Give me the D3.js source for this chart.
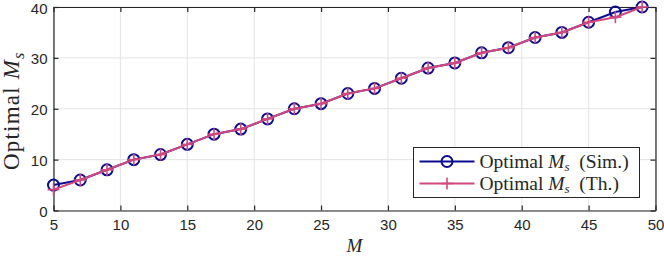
<!DOCTYPE html>
<html>
<head>
<meta charset="utf-8">
<script src="https://cdn.jsdelivr.net/npm/d3@7"></script>
<style>
  body { margin: 0; background: #fff; }
  svg { display: block; }
</style>
</head>
<body>
<div id="chart"></div>
<script>
var mValues = [5, 7, 9, 11, 13, 15, 17, 19, 21, 23, 25, 27, 29, 31, 33, 35, 37, 39, 41, 43, 45, 47, 49];
var simValues = [5, 6, 8, 10, 11, 13, 15, 16, 18, 20, 21, 23, 24, 26, 28, 29, 31, 32, 34, 35, 37, 39, 40];
var thValues = [4.1, 6, 8, 10, 11, 13, 15, 16, 18, 20, 21, 23, 24, 26, 28, 29, 31, 32, 34, 35, 37, 38, 40];
var xTicks = [5, 10, 15, 20, 25, 30, 35, 40, 45, 50];
var yTicks = [0, 10, 20, 30, 40];

var simColor = '#0c0c8f';
var thColor = '#d2497f';

var width = 664, height = 256;
var margin = { top: 7, left: 53.5, bottom: 45.5, right: 8.5 };

var svg = d3.select('#chart').append('svg')
    .attr('width', width)
    .attr('height', height);

var x = d3.scaleLinear().domain([5, 50]).range([margin.left, width - margin.right]);
var y = d3.scaleLinear().domain([0, 40]).range([height - margin.bottom, margin.top]);

// grid
svg.append('g').selectAll('line')
    .data(xTicks)
    .enter().append('line')
    .attr('x1', function (d) { return x(d); })
    .attr('x2', function (d) { return x(d); })
    .attr('y1', y(0))
    .attr('y2', y(40))
    .style('stroke', '#e3e3e3')
    .style('stroke-width', 1);
svg.append('g').selectAll('line')
    .data(yTicks)
    .enter().append('line')
    .attr('x1', x(5))
    .attr('x2', x(50))
    .attr('y1', function (d) { return y(d); })
    .attr('y2', function (d) { return y(d); })
    .style('stroke', '#e3e3e3')
    .style('stroke-width', 1);

// axes (box with inward ticks)
var tickFont = '"Liberation Sans", Arial, sans-serif';
var axB = svg.append('g').attr('transform', 'translate(0,' + y(0) + ')')
    .call(d3.axisBottom(x).tickValues(xTicks).tickSizeInner(-5).tickSizeOuter(0).tickPadding(9));
var axT = svg.append('g').attr('transform', 'translate(0,' + y(40) + ')')
    .call(d3.axisTop(x).tickValues(xTicks).tickSizeInner(-5).tickSizeOuter(0).tickFormat(''));
var axL = svg.append('g').attr('transform', 'translate(' + x(5) + ',0)')
    .call(d3.axisLeft(y).tickValues(yTicks).tickSizeInner(-5).tickSizeOuter(0).tickPadding(6));
var axR = svg.append('g').attr('transform', 'translate(' + x(50) + ',0)')
    .call(d3.axisRight(y).tickValues(yTicks).tickSizeInner(-5).tickSizeOuter(0).tickFormat(''));

[axB, axT, axL, axR].forEach(function (a) {
    a.select('.domain').style('stroke', '#262626').style('stroke-width', 1.2);
    a.selectAll('.tick line').style('stroke', '#262626').style('stroke-width', 1.2);
    a.selectAll('.tick text').style('font-family', tickFont).style('font-size', '15px').style('fill', '#262626');
});
axL.selectAll('.tick text').attr('dy', '0.4em');

// lines
var line = function (vals) {
    return d3.line()
        .x(function (d, i) { return x(mValues[i]); })
        .y(function (d) { return y(d); })(vals);
};

svg.append('path')
    .attr('d', line(simValues))
    .style('fill', 'none')
    .style('stroke', simColor)
    .style('stroke-width', 2);

svg.append('g').selectAll('circle')
    .data(simValues)
    .enter().append('circle')
    .attr('cx', function (d, i) { return x(mValues[i]); })
    .attr('cy', function (d) { return y(d); })
    .attr('r', 5.5)
    .style('fill', 'none')
    .style('stroke', simColor)
    .style('stroke-width', 2);

svg.append('path')
    .attr('d', line(thValues))
    .style('fill', 'none')
    .style('stroke', thColor)
    .style('stroke-width', 2);

var plus = svg.append('g').selectAll('g')
    .data(thValues)
    .enter().append('g')
    .attr('transform', function (d, i) { return 'translate(' + x(mValues[i]) + ',' + y(d) + ')'; });
plus.append('line').attr('x1', -6).attr('x2', 6).attr('y1', 0).attr('y2', 0)
    .style('stroke', thColor).style('stroke-width', 1.6);
plus.append('line').attr('x1', 0).attr('x2', 0).attr('y1', -6).attr('y2', 6)
    .style('stroke', thColor).style('stroke-width', 1.6);

// labels
var serif = '"Liberation Serif", "DejaVu Serif", serif';

var yl = svg.append('text')
    .attr('transform', 'translate(19,' + ((y(0) + y(40)) / 2 + 2) + ') rotate(-90)')
    .attr('text-anchor', 'middle')
    .style('font-family', serif)
    .style('font-size', '23px')
    .style('letter-spacing', '1.2px')
    .style('fill', '#262626');
yl.append('tspan').text('Optimal ');
yl.append('tspan').text('M').style('font-style', 'italic');
yl.append('tspan').text('s').style('font-style', 'italic').style('font-size', '16px').attr('dy', 5);

svg.append('text')
    .attr('x', (x(5) + x(50)) / 2)
    .attr('y', 252)
    .attr('text-anchor', 'middle')
    .style('font-family', serif)
    .style('font-size', '19px')
    .style('font-style', 'italic')
    .style('fill', '#262626')
    .text('M');

// legend
var lg = svg.append('g').attr('transform', 'translate(413.5,147.5)');
lg.append('rect')
    .attr('width', 226)
    .attr('height', 50)
    .style('fill', '#fff')
    .style('stroke', '#262626')
    .style('stroke-width', 1);

var legendItems = [
    { label: '(Sim.)', color: simColor, marker: 'circle' },
    { label: '(Th.)', color: thColor, marker: 'plus' }
];
var li = lg.selectAll('.item')
    .data(legendItems)
    .enter().append('g')
    .attr('class', 'item')
    .attr('transform', function (d, i) { return 'translate(0,' + (14 + i * 22) + ')'; });
li.append('line')
    .attr('x1', 6).attr('x2', 61).attr('y1', 0).attr('y2', 0)
    .style('stroke', function (d) { return d.color; })
    .style('stroke-width', 2);
li.filter(function (d) { return d.marker === 'circle'; })
    .append('circle')
    .attr('cx', 33.5).attr('cy', 0).attr('r', 5.5)
    .style('fill', 'none')
    .style('stroke', function (d) { return d.color; })
    .style('stroke-width', 2);
var lp = li.filter(function (d) { return d.marker === 'plus'; });
lp.append('line').attr('x1', 27.5).attr('x2', 39.5).attr('y1', 0).attr('y2', 0)
    .style('stroke', function (d) { return d.color; }).style('stroke-width', 1.6);
lp.append('line').attr('x1', 33.5).attr('x2', 33.5).attr('y1', -6).attr('y2', 6)
    .style('stroke', function (d) { return d.color; }).style('stroke-width', 1.6);

var lt = li.append('text')
    .attr('x', 66)
    .attr('y', 6)
    .style('font-family', serif)
    .style('font-size', '19.5px')
    .style('fill', '#262626');
lt.append('tspan').text('Optimal ');
lt.append('tspan').text('M').style('font-style', 'italic');
lt.append('tspan').text('s').style('font-style', 'italic').style('font-size', '13px').attr('dy', 3);
lt.append('tspan').text(function (d) { return '\u00a0\u00a0' + d.label; }).attr('dy', -3);
</script>
</body>
</html>
